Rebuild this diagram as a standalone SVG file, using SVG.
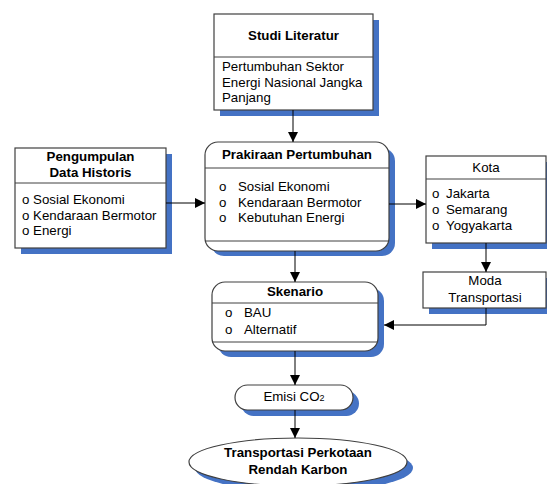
<svg xmlns="http://www.w3.org/2000/svg" width="547" height="484" viewBox="0 0 547 484">
<defs>
<style>
.sh{fill:#4472C4;stroke:none}
.bx{fill:#fff;stroke:#404040;stroke-width:1.2}
.dv{stroke:#404040;stroke-width:1;fill:none}
.t{font-family:"Liberation Sans",Arial,sans-serif;font-size:13.3px;fill:#000}
.b{font-family:"Liberation Sans",Arial,sans-serif;font-size:13.3px;font-weight:bold;fill:#000}
.c{text-anchor:middle}
.cn{stroke:#000;stroke-width:1;fill:none}
</style>
<marker id="ah" viewBox="0 0 10 10" refX="10" refY="5" markerWidth="10" markerHeight="10" markerUnits="userSpaceOnUse" orient="auto">
<path d="M0,0 L10,5 L0,10 Z" fill="#000"/>
</marker>
</defs>
<rect width="547" height="484" fill="#fff"/>

<g id="studi-literatur">
<rect class="sh" x="220" y="20" width="159" height="96"/>
<rect class="bx" x="214" y="14" width="159" height="96"/>
<line class="dv" x1="214" y1="57" x2="373" y2="57"/>
<text class="b c" x="293.5" y="40">Studi Literatur</text>
<text class="t" x="222" y="71">Pertumbuhan Sektor</text>
<text class="t" x="222" y="87">Energi Nasional Jangka</text>
<text class="t" x="222" y="102">Panjang</text>
</g>

<g id="pengumpulan">
<rect class="sh" x="21" y="154" width="151" height="100"/>
<rect class="bx" x="15" y="148" width="151" height="100"/>
<line class="dv" x1="15" y1="183" x2="166" y2="183"/>
<text class="b c" x="90.5" y="161">Pengumpulan</text>
<text class="b c" x="90.5" y="177">Data Historis</text>
<text class="t" x="22" y="204">o Sosial Ekonomi</text>
<text class="t" x="22" y="220">o Kendaraan Bermotor</text>
<text class="t" x="22" y="235">o Energi</text>
</g>

<g id="prakiraan">
<rect class="sh" x="211" y="148" width="184" height="108" rx="13"/>
<rect class="bx" x="205" y="142" width="184" height="109" rx="13"/>
<line class="dv" x1="205" y1="168" x2="389" y2="168"/>
<line class="dv" x1="205" y1="241" x2="389" y2="241"/>
<text class="b c" x="297" y="159">Prakiraan Pertumbuhan</text>
<text class="t" x="219" y="191">o</text>
<text class="t" x="238" y="191">Sosial Ekonomi</text>
<text class="t" x="219" y="207">o</text>
<text class="t" x="238" y="207">Kendaraan Bermotor</text>
<text class="t" x="219" y="222">o</text>
<text class="t" x="238" y="222">Kebutuhan Energi</text>
</g>

<g id="kota">
<rect class="sh" x="432" y="162" width="121" height="87"/>
<rect class="bx" x="426" y="156" width="120" height="87"/>
<line class="dv" x1="426" y1="179" x2="546" y2="179"/>
<text class="t c" x="486" y="172">Kota</text>
<text class="t" x="432" y="198">o</text>
<text class="t" x="446" y="198">Jakarta</text>
<text class="t" x="432" y="214">o</text>
<text class="t" x="446" y="214">Semarang</text>
<text class="t" x="432" y="230">o</text>
<text class="t" x="446" y="230">Yogyakarta</text>
</g>

<g id="moda">
<rect class="sh" x="429" y="278" width="124" height="36"/>
<rect class="bx" x="423" y="272" width="123" height="36"/>
<text class="t c" x="485" y="285">Moda</text>
<text class="t c" x="485" y="302">Transportasi</text>
</g>

<g id="skenario">
<rect class="sh" x="218" y="288" width="166" height="69" rx="13"/>
<rect class="bx" x="212" y="282" width="166" height="69" rx="13"/>
<line class="dv" x1="212" y1="303" x2="378" y2="303"/>
<line class="dv" x1="212" y1="342" x2="378" y2="342"/>
<text class="b c" x="295" y="296">Skenario</text>
<text class="t" x="225" y="317">o</text>
<text class="t" x="244" y="317">BAU</text>
<text class="t" x="225" y="334">o</text>
<text class="t" x="244" y="334">Alternatif</text>
</g>

<g id="emisi">
<rect class="sh" x="241" y="391" width="118" height="25" rx="12.5"/>
<rect class="bx" x="235" y="385" width="118" height="25" rx="12.5"/>
<text class="t c" x="294" y="401">Emisi CO<tspan font-size="9px">2</tspan></text>
</g>

<g id="transportasi">
<ellipse class="sh" cx="304" cy="468" rx="109" ry="24"/>
<ellipse class="bx" cx="298" cy="462" rx="109" ry="24"/>
<text class="b c" x="298" y="457">Transportasi Perkotaan</text>
<text class="b c" x="298" y="474">Rendah Karbon</text>
</g>

<g id="connectors">
<line class="cn" x1="293" y1="110" x2="293" y2="142" marker-end="url(#ah)"/>
<line class="cn" x1="166" y1="203" x2="205" y2="203" marker-end="url(#ah)"/>
<line class="cn" x1="389" y1="204" x2="426" y2="204" marker-end="url(#ah)"/>
<line class="cn" x1="486" y1="243" x2="486" y2="272" marker-end="url(#ah)"/>
<polyline class="cn" points="486,308 486,325 384,325" marker-end="url(#ah)"/>
<line class="cn" x1="295" y1="251" x2="295" y2="282" marker-end="url(#ah)"/>
<line class="cn" x1="295" y1="351" x2="295" y2="385" marker-end="url(#ah)"/>
<line class="cn" x1="295" y1="410" x2="295" y2="438" marker-end="url(#ah)"/>
</g>
</svg>
